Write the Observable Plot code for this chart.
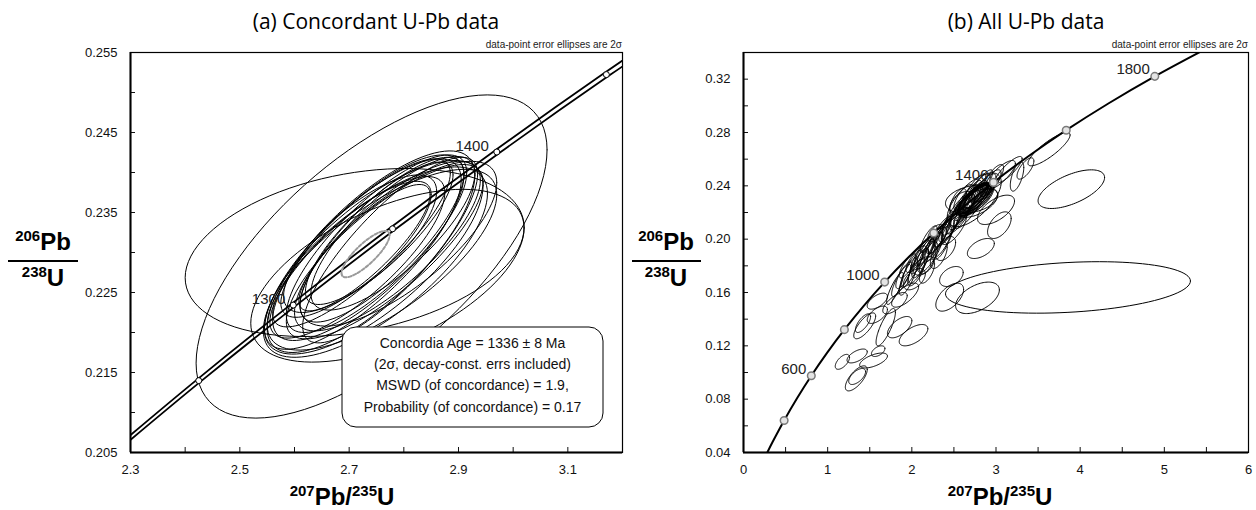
<!DOCTYPE html>
<html><head><meta charset="utf-8">
<script src="https://cdn.jsdelivr.net/npm/d3@7"></script>
<script src="https://cdn.jsdelivr.net/npm/@observablehq/plot@0.6"></script>
<style>
body{margin:0;background:#fff;}
#wrap{position:relative;width:1256px;height:510px;overflow:hidden;background:#fff;}
#wrap > svg{position:absolute;top:0;}
</style></head><body><div id="wrap"></div>
<script>
// ---------- data ----------
// Concordia curve points (age Ma, 207Pb/235U, 206Pb/238U)
const concordiaAges = [250,300,400,500,600,700,800,900,1000,1100,1200,1300,1400,1500,1600,1700,1800,1900];
const concordiaX = [0.27918,0.34374,0.48281,0.63627,0.80563,0.99251,1.19873,1.42630,1.67740,1.95450,2.26030,2.59770,2.97008,3.38100,3.83440,4.33500,4.88690,5.49620];
const concordiaY = [0.039543,0.047637,0.064016,0.080650,0.097544,0.114702,0.132139,0.149830,0.167806,0.186055,0.204593,0.223426,0.242563,0.261978,0.281733,0.301748,0.322107,0.342794];
const markerAgesB = [400,600,800,1000,1200,1400,1600,1800];
const labelAgesB = [600,1000,1400,1800];

// Concordia band (decay-constant errors) for panel (a)
const bandAges = [1200,1250,1300,1350,1400,1450,1500];
const bandX = [2.26030,2.42487,2.59770,2.77933,2.97008,3.17049,3.38100];
const bandY = [0.204593,0.213984,0.223426,0.232961,0.242563,0.252237,0.261978];
const bandHalfX = [0.0050,0.0055,0.0060,0.0065,0.0071,0.0077,0.0084];
const bandMarkerAges = [1250,1300,1350,1400,1450];
const bandLabelAges = [1300,1400];

// Error ellipses: [207/235 centre, 206/238 centre, 2s x, 2s y, rho]
const concordant = [
  [2.740,0.2301,0.190,0.0126,0.76],[2.735,0.2306,0.175,0.0116,0.78],[2.750,0.2311,0.165,0.0111,0.80],
  [2.725,0.2298,0.180,0.0119,0.78],[2.760,0.2316,0.150,0.0103,0.80],[2.745,0.2294,0.200,0.0121,0.74],
  [2.730,0.2318,0.155,0.0099,0.82],[2.770,0.2308,0.170,0.0106,0.78],[2.715,0.2294,0.160,0.0101,0.80],
  [2.755,0.2324,0.135,0.0089,0.82],[2.748,0.2288,0.205,0.0119,0.72],[2.780,0.2324,0.150,0.0096,0.78],
  [2.705,0.2298,0.145,0.0091,0.82],[2.765,0.2301,0.180,0.0109,0.80],[2.728,0.2306,0.120,0.0079,0.84],
  [2.790,0.2311,0.180,0.0103,0.74],[2.760,0.2291,0.210,0.0113,0.72],[2.770,0.2271,0.250,0.0108,0.55],
  [2.710,0.2300,0.310,0.0105,0.30],[2.741,0.2295,0.321,0.0202,0.66],[2.720,0.2311,0.140,0.0086,0.76],
  [2.775,0.2303,0.160,0.0116,0.82]
];
const concordiaAgeEllipse = [[2.730,0.2298,0.044,0.0029,0.82]];
const discordant = [
  [1.95,0.180,0.10,0.009,0.8],[2.05,0.185,0.12,0.010,0.8],[2.10,0.182,0.10,0.011,0.75],
  [2.15,0.190,0.12,0.010,0.8],[2.20,0.186,0.11,0.012,0.7],[2.25,0.195,0.12,0.010,0.8],
  [2.30,0.200,0.13,0.011,0.8],[2.35,0.198,0.12,0.012,0.75],[2.40,0.205,0.14,0.011,0.8],
  [2.45,0.210,0.13,0.012,0.8],[2.50,0.208,0.15,0.012,0.75],[2.55,0.215,0.14,0.011,0.8],
  [2.20,0.200,0.10,0.010,0.8],[2.05,0.175,0.10,0.010,0.7],[1.90,0.172,0.09,0.009,0.75],
  [2.60,0.222,0.14,0.012,0.8],[2.65,0.226,0.15,0.012,0.8],[2.85,0.238,0.15,0.011,0.8],
  [2.90,0.240,0.16,0.012,0.8],[3.05,0.248,0.18,0.011,0.8],[3.15,0.252,0.16,0.010,0.85],
  [3.35,0.253,0.10,0.008,0.7],[3.25,0.247,0.08,0.011,0.6],
  [2.60,0.227,0.15,0.0088,0.4],[3.00,0.222,0.22,0.011,0.6],[3.04,0.2105,0.14,0.010,0.5],
  [2.82,0.193,0.16,0.0075,0.5],[3.63,0.2675,0.25,0.0125,0.85],[3.895,0.2375,0.395,0.0145,0.6],
  [3.855,0.1638,1.455,0.0193,0.25],[2.45,0.1565,0.165,0.0105,0.55],[2.78,0.156,0.26,0.0118,0.5],
  [2.47,0.172,0.14,0.0075,0.4],[2.14,0.180,0.12,0.007,0.5],[2.28,0.2045,0.09,0.0065,0.6],
  [1.175,0.108,0.085,0.0056,0.6],[1.35,0.1124,0.12,0.0052,0.6],[1.34,0.0956,0.13,0.0094,0.7],
  [1.35,0.097,0.10,0.006,0.6],[1.545,0.109,0.165,0.0056,0.6],[1.60,0.116,0.08,0.004,0.5],
  [1.69,0.134,0.115,0.014,0.8],[1.44,0.135,0.13,0.0097,0.75],[1.42,0.137,0.09,0.007,0.7],
  [1.59,0.1433,0.12,0.0065,0.6],[1.855,0.134,0.145,0.008,0.6],[2.02,0.128,0.17,0.008,0.6],
  [1.59,0.1535,0.12,0.006,0.6],[1.80,0.152,0.145,0.008,0.7],[1.92,0.158,0.16,0.009,0.7],
  [2.03,0.170,0.13,0.008,0.5],
  [1.80,0.163,0.10,0.012,0.85],[1.88,0.170,0.12,0.013,0.85],[1.96,0.172,0.11,0.014,0.8],
  [2.00,0.178,0.13,0.014,0.85],[2.08,0.180,0.12,0.013,0.8],[2.12,0.188,0.14,0.014,0.85],
  [2.18,0.192,0.12,0.012,0.85],[2.22,0.190,0.15,0.015,0.8],[2.28,0.196,0.13,0.013,0.85],
  [2.33,0.203,0.14,0.014,0.85],[2.38,0.200,0.12,0.015,0.8],[2.42,0.208,0.15,0.014,0.85],
  [2.48,0.212,0.13,0.013,0.85],[2.52,0.218,0.16,0.015,0.85],[2.58,0.220,0.14,0.013,0.8],
  [2.62,0.225,0.17,0.016,0.85],[2.68,0.230,0.15,0.014,0.85],[2.72,0.234,0.16,0.015,0.85],
  [2.78,0.236,0.15,0.013,0.8],[2.82,0.240,0.14,0.012,0.85],[2.95,0.244,0.14,0.012,0.8],
  [2.70,0.226,0.20,0.018,0.85],[2.62,0.231,0.12,0.010,0.7],[2.55,0.228,0.10,0.010,0.6],
  [2.32,0.188,0.10,0.010,0.6],[2.40,0.193,0.12,0.009,0.5],[2.18,0.176,0.09,0.009,0.6]
];

// ---------- helpers ----------
function outline(list, tag) {
  const pts = [];
  list.forEach(([cx, cy, sx, sy, r], i) => {
    const q = Math.sqrt(1 - r * r);
    for (let k = 0; k <= 96; k++) {
      const t = 2 * Math.PI * k / 96;
      pts.push({id: tag + i, x: cx + sx * Math.cos(t), y: cy + sy * (r * Math.cos(t) + q * Math.sin(t))});
    }
  });
  return pts;
}
const band = bandAges.map((a, i) => ({age: a, x: bandX[i], y: bandY[i], lo: bandX[i] - bandHalfX[i], hi: bandX[i] + bandHalfX[i]}));
const curve = concordiaAges.map((a, i) => ({age: a, x: concordiaX[i], y: concordiaY[i]}));
const font = "Liberation Sans, Arial, sans-serif";
const wrap = document.getElementById("wrap");

// ---------- panel (a) ----------
const A = Plot.plot({
  width: 628, height: 510,
  marginLeft: 130, marginRight: 6, marginTop: 52, marginBottom: 58,
  x: {domain: [2.3, 3.2], label: null},
  y: {domain: [0.205, 0.255], label: null},
  style: {fontFamily: font, fontSize: "13px", color: "#111", background: "transparent"},
  marks: [
    Plot.line(outline(concordant, "c"), {x: "x", y: "y", z: "id", stroke: "#000", strokeWidth: 1, clip: true}),
    Plot.line(band, {x: "lo", y: "y", stroke: "#000", strokeWidth: 1.8, curve: "catmull-rom", clip: true}),
    Plot.line(band, {x: "hi", y: "y", stroke: "#000", strokeWidth: 1.8, curve: "catmull-rom", clip: true}),
    Plot.line(outline(concordiaAgeEllipse, "g"), {x: "x", y: "y", z: "id", stroke: "#9a9a9a", strokeWidth: 2, strokeDasharray: "3,2"}),
    Plot.dot(band.filter(d => bandMarkerAges.includes(d.age)), {x: "x", y: "y", r: 3, fill: "#fff", stroke: "#000", strokeWidth: 1, clip: true}),
    Plot.text(band.filter(d => bandLabelAges.includes(d.age)), {x: "x", y: "y", text: d => String(d.age), textAnchor: "end", dx: -8, dy: -6, fontSize: 15, fill: "#222"}),
    Plot.axisX(d3.range(23, 33).map(v => v / 10), {tickSize: -5, tickFormat: () => "", strokeWidth: 1}),
    Plot.axisX([2.3, 2.5, 2.7, 2.9, 3.1], {tickSize: 0, tickPadding: 12, tickFormat: d3.format(".1f")}),
    Plot.axisY(d3.range(41, 52).map(v => v * 0.005), {tickSize: -5, tickFormat: () => "", strokeWidth: 1}),
    Plot.axisY([0.205, 0.215, 0.225, 0.235, 0.245, 0.255], {tickSize: 0, tickPadding: 13, tickFormat: d3.format(".3f")}),
    Plot.frame({stroke: "#000", strokeWidth: 1.2}),
    Plot.ruleX([2.3], {stroke: "#000", strokeWidth: 2}),
    Plot.ruleY([0.205], {stroke: "#000", strokeWidth: 2})
  ]
});
A.style.left = "0px";
wrap.appendChild(A);

// ---------- panel (b) ----------
const B = Plot.plot({
  width: 628, height: 510,
  marginLeft: 115, marginRight: 8, marginTop: 52, marginBottom: 58,
  x: {domain: [0, 6], label: null},
  y: {domain: [0.04, 0.34], label: null},
  style: {fontFamily: font, fontSize: "13px", color: "#111", background: "transparent"},
  marks: [
    Plot.line(outline(concordant.concat(discordant), "e"), {x: "x", y: "y", z: "id", stroke: "#000", strokeWidth: 1, clip: true}),
    Plot.line(curve, {x: "x", y: "y", stroke: "#000", strokeWidth: 2, curve: "catmull-rom", clip: true}),
    Plot.dot(curve.filter(d => markerAgesB.includes(d.age)), {x: "x", y: "y", r: 3.8, fill: "#e4e4e4", stroke: "#7a7a7a", strokeWidth: 1.5}),
    Plot.text(curve.filter(d => labelAgesB.includes(d.age)), {x: "x", y: "y", text: d => String(d.age), textAnchor: "end", dx: -5, dy: -7, fontSize: 15, fill: "#222"}),
    Plot.axisX(d3.range(0, 13).map(v => v / 2), {tickSize: -5, tickFormat: () => "", strokeWidth: 1}),
    Plot.axisX([0, 1, 2, 3, 4, 5, 6], {tickSize: 0, tickPadding: 12, tickFormat: d3.format("d")}),
    Plot.axisY(d3.range(2, 18).map(v => v * 0.02), {tickSize: -5, tickFormat: () => "", strokeWidth: 1}),
    Plot.axisY([0.04, 0.08, 0.12, 0.16, 0.20, 0.24, 0.28, 0.32], {tickSize: 0, tickPadding: 13, tickFormat: d3.format(".2f")}),
    Plot.frame({stroke: "#000", strokeWidth: 1.2}),
    Plot.ruleX([0], {stroke: "#000", strokeWidth: 2}),
    Plot.ruleY([0.04], {stroke: "#000", strokeWidth: 2})
  ]
});
B.style.left = "628px";
wrap.appendChild(B);

// ---------- overlay text ----------
const ov = d3.select(wrap).append("svg").attr("width", 1256).attr("height", 510)
  .style("left", "0px").style("pointer-events", "none");

function title(x, y, s) {
  ov.append("text").attr("x", x).attr("y", y).attr("text-anchor", "middle")
    .attr("font-family", "Open Sans, Noto Sans, sans-serif").attr("font-size", 21).attr("fill", "#000").text(s);
}
title(376, 29, "(a) Concordant U-Pb data");
title(1026, 29, "(b) All U-Pb data");

function note(x, y) {
  ov.append("text").attr("x", x).attr("y", y).attr("text-anchor", "end")
    .attr("font-family", font).attr("font-size", 10).attr("fill", "#222").text("data-point error ellipses are 2σ");
}
note(622, 48); note(1248, 48);

function supText(x, y, parts) {
  const t = ov.append("text").attr("x", x).attr("y", y).attr("text-anchor", "middle")
    .attr("font-family", font).attr("font-weight", "bold").attr("fill", "#000");
  let up = false;
  parts.forEach(([s, sup]) => {
    const ts = t.append("tspan").attr("font-size", sup ? 15 : 24).text(s);
    if (sup && !up) { ts.attr("dy", -9); up = true; }
    else if (!sup && up) { ts.attr("dy", 9); up = false; }
  });
}
function yTitle(cx, x0, x1) {
  supText(cx, 250, [["206", true], ["Pb", false]]);
  ov.append("line").attr("x1", x0).attr("x2", x1).attr("y1", 261).attr("y2", 261).attr("stroke", "#000").attr("stroke-width", 2);
  supText(cx, 286, [["238", true], ["U", false]]);
}
yTitle(43, 8, 78);
yTitle(666, 632, 701);
supText(342, 505, [["207", true], ["Pb/", false], ["235", true], ["U", false]]);
supText(1000, 505, [["207", true], ["Pb/", false], ["235", true], ["U", false]]);

// concordia age box
const boxLines = ["Concordia Age = 1336 ± 8 Ma", "(2σ, decay-const. errs included)", "MSWD (of concordance) = 1.9,", "Probability (of concordance) = 0.17"];
ov.append("rect").attr("x", 342).attr("y", 327).attr("width", 261).attr("height", 100).attr("rx", 14)
  .attr("fill", "#fff").attr("stroke", "#000").attr("stroke-width", 1);
boxLines.forEach((s, i) => {
  ov.append("text").attr("x", 472.5).attr("y", 348 + i * 21.2).attr("text-anchor", "middle")
    .attr("font-family", font).attr("font-size", 14).attr("fill", "#111").text(s);
});
</script></body></html>
